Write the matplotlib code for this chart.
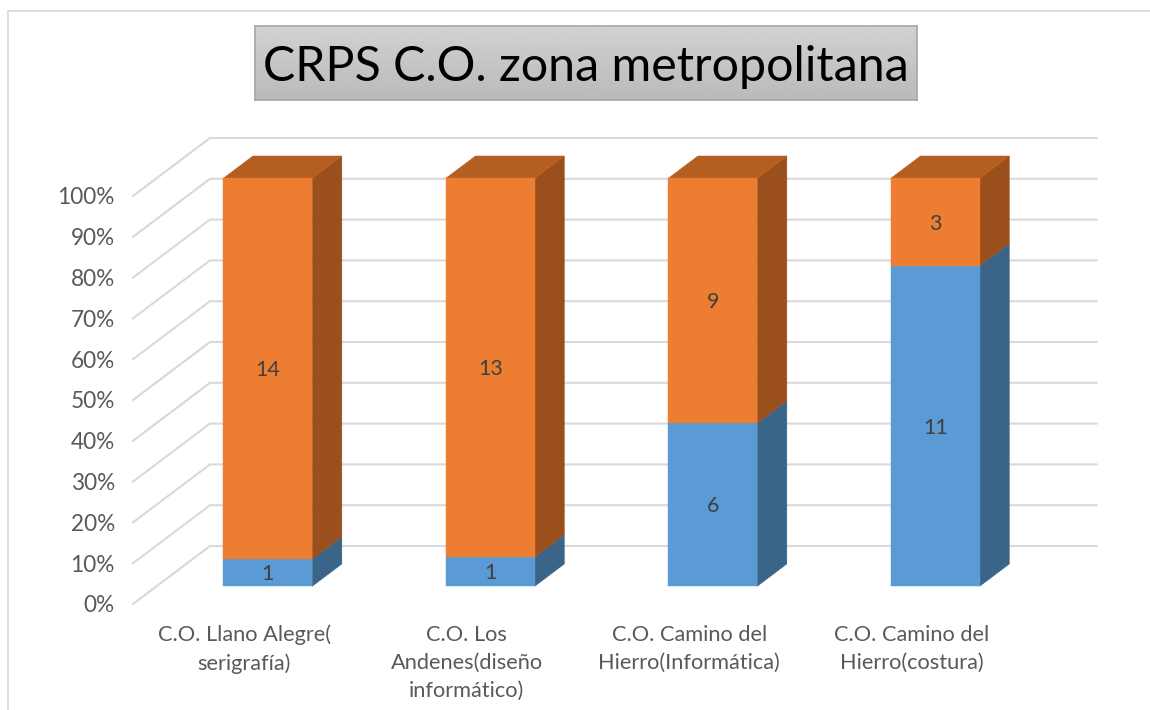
import numpy as np
import matplotlib
matplotlib.use("Agg")
import matplotlib.pyplot as plt
from matplotlib.patches import Polygon
from matplotlib.lines import Line2D

plt.rcParams['font.family'] = ['Lato', 'DejaVu Sans']

titulo = "CRPS C.O. zona metropolitana"
categorias = ["C.O. Llano Alegre(\nserigrafía)",
              "C.O. Los\nAndenes(diseño\ninformático)",
              "C.O. Camino del\nHierro(Informática)",
              "C.O. Camino del\nHierro(costura)"]
azul = [1, 1, 6, 11]
naranja = [14, 13, 9, 3]
porcentajes = [0, 10, 20, 30, 40, 50, 60, 70, 80, 90, 100]

W, H = 1150, 710
fig = plt.figure(figsize=(W / 100, H / 100), dpi=100)

# plano frontal del grafico, en pixeles de la imagen
izq, der, abajo, arriba = 133, 1023, 604, 196
ax = fig.add_axes([izq / W, 1 - abajo / H, (der - izq) / W, (abajo - arriba) / H])
ax.set_xlim(-0.5, 3.5)
ax.set_ylim(0, 100)
ax.patch.set_visible(False)
for s in ax.spines.values():
    s.set_visible(False)

# profundidad 3d: px -> unidades de datos
px_x = 4 / (der - izq)
px_y = 100 / (abajo - arriba)
fondo_x = 77 * px_x
fondo_y = 58 * px_y

def p(x, y, d):
    return (x + d * fondo_x, y + d * fondo_y)

# lineas de rejilla
for t in porcentajes:
    a = p(-0.5, t, 0)
    b = p(-0.5, t, 1)
    c = p(3.485, t, 1)
    ax.plot([a[0], b[0], c[0]], [a[1], b[1], c[1]], color="#D9D9D9", lw=1.5,
            zorder=1, clip_on=False, solid_joinstyle="miter")

d1, d2 = 0.305, 0.69
ancho = 0.2

def caja(x, y0, y1, frente, lado, tapa=None):
    i, r = x - ancho, x + ancho
    ax.add_patch(Polygon([p(r, y0, d1), p(r, y0, d2), p(r, y1, d2), p(r, y1, d1)],
                         fc=lado, ec=lado, lw=0.3, zorder=3, clip_on=False))
    if tapa:
        ax.add_patch(Polygon([p(i, y1, d1), p(i, y1, d2), p(r, y1, d2), p(r, y1, d1)],
                             fc=tapa, ec=tapa, lw=0.3, zorder=3, clip_on=False))
    ax.add_patch(Polygon([p(i, y0, d1), p(r, y0, d1), p(r, y1, d1), p(i, y1, d1)],
                         fc=frente, ec=frente, lw=0.3, zorder=4, clip_on=False))

for i in range(len(categorias)):
    total = azul[i] + naranja[i]
    corte = azul[i] / total * 100
    caja(i, 0, corte, "#5B9BD5", "#3A6488")
    caja(i, corte, 100, "#ED7D31", "#9B4F1C", "#B55E22")
    xt, yt = p(i, corte / 2, d1)
    ax.text(xt, yt - 0.4, str(azul[i]), ha="center", va="center", fontsize=15.5,
            color="#404040", zorder=5)
    xt, yt = p(i, (corte + 100) / 2, d1)
    ax.text(xt, yt - 0.4, str(naranja[i]), ha="center", va="center", fontsize=15.5,
            color="#404040", zorder=5)

ax.set_yticks(porcentajes)
ax.set_yticklabels([f"{t}%" for t in porcentajes], fontsize=16.3, color="#595959")
ax.set_xticks(range(len(categorias)))
ax.set_xticklabels(categorias, fontsize=15.7, color="#595959", linespacing=1.5)
ax.tick_params(axis="both", length=0)
ax.tick_params(axis="y", pad=13)
ax.tick_params(axis="x", pad=15)

# marco exterior, solo izquierda y arriba quedan dentro de la imagen
fig.add_artist(Line2D([8 / W, 8 / W, 1], [0, 1 - 11 / H, 1 - 11 / H], color="#D9D9D9", lw=1.3))

# titulo con degradado
ax_t = fig.add_axes([255 / W, 1 - 100 / H, 662 / W, 74 / H])
grad = np.linspace(0.82, 0.73, 64).reshape(-1, 1)
ax_t.imshow(grad, cmap="gray", vmin=0, vmax=1, aspect="auto")
ax_t.set_xticks([])
ax_t.set_yticks([])
for s in ax_t.spines.values():
    s.set_color("#A6A6A6")
    s.set_linewidth(1.2)
ax_t.text(0.5, 0.45, titulo, transform=ax_t.transAxes, ha="center", va="center",
          fontsize=34.8, color="black")

fig.savefig("out.png", dpi=100)
